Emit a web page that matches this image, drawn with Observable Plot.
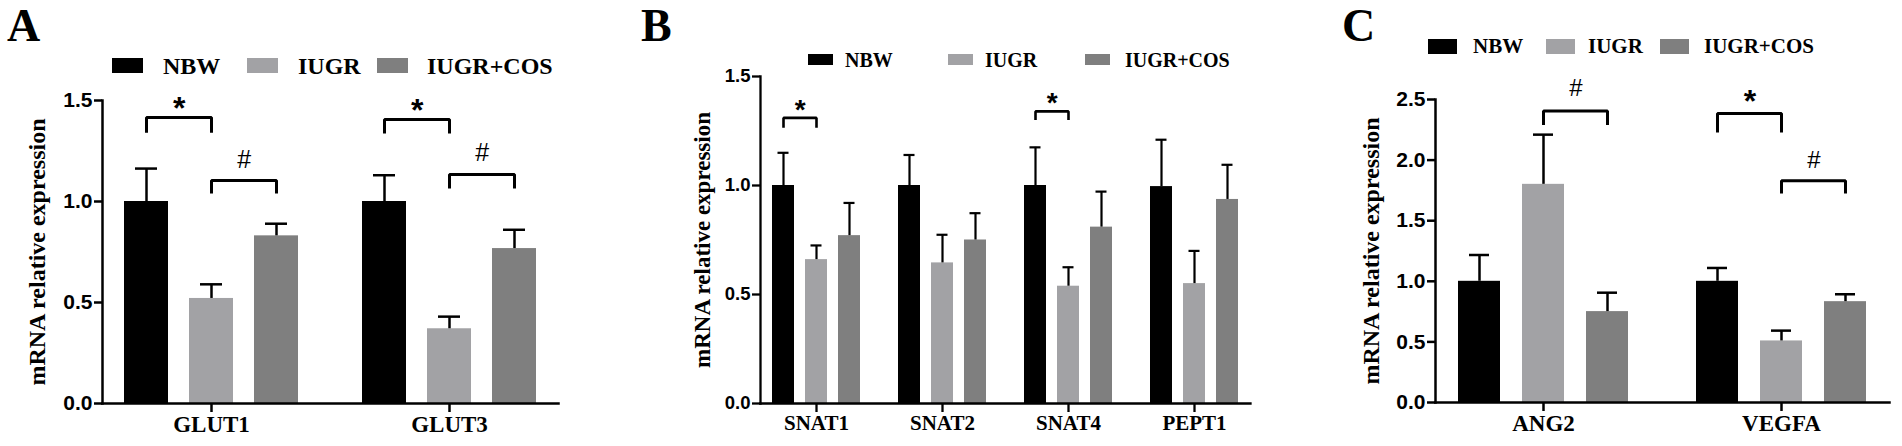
<!DOCTYPE html>
<html><head><meta charset="utf-8">
<script src="https://cdn.jsdelivr.net/npm/d3@7"></script>
<script src="https://cdn.jsdelivr.net/npm/@observablehq/plot@0.6"></script>
<style>
html,body{margin:0;padding:0;background:#fff;}
#page{position:relative;width:1902px;height:446px;overflow:hidden;color:#000;}
.abs{position:absolute;}
.serif{font-family:"Liberation Serif","Times New Roman",serif;font-weight:bold;line-height:1;white-space:nowrap;}
svg{overflow:visible;}
</style></head><body><div id="page"></div>
<script>
// ---------- data ----------
const groups = ["NBW", "IUGR", "IUGR+COS"];
const colors = ["#000000", "#a2a2a5", "#7f7f7f"];

const genesA = ["GLUT1", "GLUT3"];
const nbwA = [1.0, 1.0];
const iugrA = [0.52, 0.37];
const cosA = [0.83, 0.767];
const nbwErrA = [1.163, 1.13];
const iugrErrA = [0.59, 0.43];
const cosErrA = [0.89, 0.86];
const sigA = [
  ["GLUT1", "NBW", "IUGR", 1.416, 1.34, "*", 1.50],
  ["GLUT1", "IUGR", "IUGR+COS", 1.104, 1.04, "#", 1.205],
  ["GLUT3", "NBW", "IUGR", 1.406, 1.337, "*", 1.49],
  ["GLUT3", "IUGR", "IUGR+COS", 1.134, 1.064, "#", 1.238]
];

const genesB = ["SNAT1", "SNAT2", "SNAT4", "PEPT1"];
const nbwB = [1.0, 1.0, 1.0, 0.995];
const iugrB = [0.66, 0.645, 0.538, 0.55];
const cosB = [0.77, 0.75, 0.809, 0.936];
const nbwErrB = [1.15, 1.14, 1.175, 1.21];
const iugrErrB = [0.725, 0.774, 0.625, 0.70];
const cosErrB = [0.92, 0.873, 0.972, 1.095];
const sigB = [
  ["SNAT1", "NBW", "IUGR", 1.31, 1.265, "*", 1.38],
  ["SNAT4", "NBW", "IUGR", 1.34, 1.30, "*", 1.41]
];

const genesC = ["ANG2", "VEGFA"];
const nbwC = [1.0, 1.0];
const iugrC = [1.80, 0.508];
const cosC = [0.75, 0.832];
const nbwErrC = [1.217, 1.11];
const iugrErrC = [2.21, 0.593];
const cosErrC = [0.906, 0.893];
const sigC = [
  ["ANG2", "IUGR", "IUGR+COS", 2.405, 2.29, "#", 2.59],
  ["VEGFA", "NBW", "IUGR", 2.384, 2.227, "*", 2.55],
  ["VEGFA", "IUGR", "IUGR+COS", 1.83, 1.725, "#", 2.0]
];

const ticksAB = [0, 0.5, 1.0, 1.5];
const ticksC = [0, 0.5, 1.0, 1.5, 2.0, 2.5];
const yLabel = "mRNA relative expression";

// ---------- layout ----------
const page = document.getElementById("page");

function panel(cfg, genes, means, errs, sig) {
  const rows = genes.flatMap((g, i) => groups.map((grp, j) => ({gene: g, group: grp, value: means[j][i], err: errs[j][i]})));
  const pts = sig.flatMap(([gene, from, to, top, leg], k) => [
    {id: k, gene, g: from, v: leg}, {id: k, gene, g: from, v: top},
    {id: k, gene, g: to, v: top}, {id: k, gene, g: to, v: leg}
  ]);
  const labs = sig.map(([gene, from, to, top, leg, label, ly]) => ({gene, g: from, v: ly, label}));
  const svg = Plot.plot({
    width: cfg.width, height: cfg.height,
    marginLeft: cfg.ml, marginRight: cfg.mr, marginTop: cfg.mt, marginBottom: cfg.mb,
    style: {background: "transparent", color: "#000", overflow: "visible"},
    fx: {domain: genes, paddingInner: cfg.fxIn, paddingOuter: cfg.fxOut, label: null},
    x: {domain: groups, padding: cfg.xPad, axis: null},
    y: {domain: [0, cfg.yMax]},
    color: {domain: groups, range: colors},
    marks: [
      Plot.barY(rows, {fx: "gene", x: "group", y: "value", fill: "group"}),
      Plot.ruleX(rows, {fx: "gene", x: "group", y1: "value", y2: "err", strokeWidth: cfg.esw}),
      Plot.tickY(rows, {fx: "gene", x: "group", y: "err", insetLeft: cfg.cap, insetRight: cfg.cap, strokeWidth: cfg.esw}),
      Plot.line(pts, {fx: "gene", x: "g", y: "v", z: "id", strokeWidth: cfg.bsw, strokeLinejoin: "miter", strokeLinecap: "butt"}),
      Plot.text(labs.filter(d => d.label === "*"), {fx: "gene", x: "g", y: "v", text: "label", dx: cfg.half, dy: cfg.starSize * 0.26,
        fontSize: cfg.starSize, fontWeight: "bold", fontFamily: "Liberation Sans"}),
      Plot.text(labs.filter(d => d.label === "#"), {fx: "gene", x: "g", y: "v", text: "label", dx: cfg.half,
        fontSize: cfg.hashSize, fontWeight: "normal", fontFamily: "Liberation Sans"}),
      Plot.frame({anchor: "left", facet: "super", strokeWidth: cfg.asw}),
      Plot.frame({anchor: "bottom", facet: "super", strokeWidth: cfg.asw}),
      Plot.axisY({ticks: cfg.ticks, tickFormat: d3.format(".1f"), tickSize: 8, tickPadding: 2, label: null,
        fontSize: cfg.tickFont, fontWeight: "bold", fontFamily: "Liberation Sans", strokeWidth: cfg.asw}),
      Plot.axisFx({anchor: "bottom", tickSize: 9, tickPadding: 3, label: null,
        fontSize: cfg.xFont, fontWeight: "bold", fontFamily: "Liberation Serif", strokeWidth: cfg.asw}),
      Plot.text([{gene: genes[0], t: yLabel}], {fx: "gene", frameAnchor: "left", textAnchor: "middle", lineAnchor: "middle",
        rotate: -90, dx: cfg.ylDx, text: "t",
        fontSize: cfg.ylFont, fontWeight: "bold", fontFamily: "Liberation Serif"})
    ]
  });
  svg.style.position = "absolute";
  svg.style.left = cfg.left + "px";
  svg.style.top = cfg.top + "px";
  page.appendChild(svg);

  // panel letter
  const L = document.createElement("div");
  L.className = "abs serif";
  L.textContent = cfg.letter;
  L.style.left = cfg.letterX + "px";
  L.style.top = "3px";
  L.style.fontSize = "46px";
  page.appendChild(L);

  // legend
  groups.forEach((grp, j) => {
    const sw = document.createElement("div");
    sw.className = "abs";
    sw.style.left = cfg.legSw[j] + "px";
    sw.style.top = (cfg.legCy - cfg.legH / 2) + "px";
    sw.style.width = cfg.legW + "px";
    sw.style.height = cfg.legH + "px";
    sw.style.background = colors[j];
    page.appendChild(sw);
    const t = document.createElement("div");
    t.className = "abs serif";
    t.textContent = grp;
    t.style.left = cfg.legTx[j] + "px";
    t.style.fontSize = cfg.legFont + "px";
    t.style.top = (cfg.legCy - cfg.legFont * 0.5) + "px";
    page.appendChild(t);
  });
}

panel({
  letter: "A", letterX: 7,
  left: 0, top: 80, width: 580, height: 366, ml: 101, mr: 20, mt: 20, mb: 43,
  fxIn: 0.084, fxOut: 0.006, xPad: 0.33, yMax: 1.5, ticks: ticksAB,
  esw: 2.5, bsw: 3, asw: 2.5, cap: 11, half: 32.7,
  starSize: 32, hashSize: 25, tickFont: 21, xFont: 23, ylFont: 24, ylDx: -65,
  legSw: [112, 247, 377], legTx: [163, 298, 427], legCy: 65.5, legW: 31, legH: 15, legFont: 24
}, genesA, [nbwA, iugrA, cosA], [nbwErrA, iugrErrA, cosErrA], sigA);

panel({
  letter: "B", letterX: 641,
  left: 600, top: 68, width: 680, height: 378, ml: 157, mr: 27, mt: 8, mb: 43,
  fxIn: 0.114, fxOut: 0.025, xPad: 0.33, yMax: 1.5, ticks: ticksAB,
  esw: 2.2, bsw: 2.6, asw: 2.3, cap: 5.5, half: 16.75,
  starSize: 28, hashSize: 22, tickFont: 18.5, xFont: 21, ylFont: 23, ylDx: -58,
  legSw: [808, 948, 1085], legTx: [845, 985, 1125], legCy: 59.5, legW: 25, legH: 11, legFont: 20
}, genesB, [nbwB, iugrB, cosB], [nbwErrB, iugrErrB, cosErrB], sigB);

panel({
  letter: "C", letterX: 1342,
  left: 1300, top: 62, width: 602, height: 384, ml: 134, mr: 12, mt: 37, mb: 44,
  fxIn: 0.092, fxOut: 0.0, xPad: 0.34, yMax: 2.5, ticks: ticksC,
  esw: 2.5, bsw: 3, asw: 2.5, cap: 11, half: 32.5,
  starSize: 32, hashSize: 24, tickFont: 21, xFont: 23, ylFont: 24, ylDx: -64,
  legSw: [1428, 1546, 1660], legTx: [1473, 1588, 1704], legCy: 46.5, legW: 29, legH: 15, legFont: 21
}, genesC, [nbwC, iugrC, cosC], [nbwErrC, iugrErrC, cosErrC], sigC);
</script></body></html>
